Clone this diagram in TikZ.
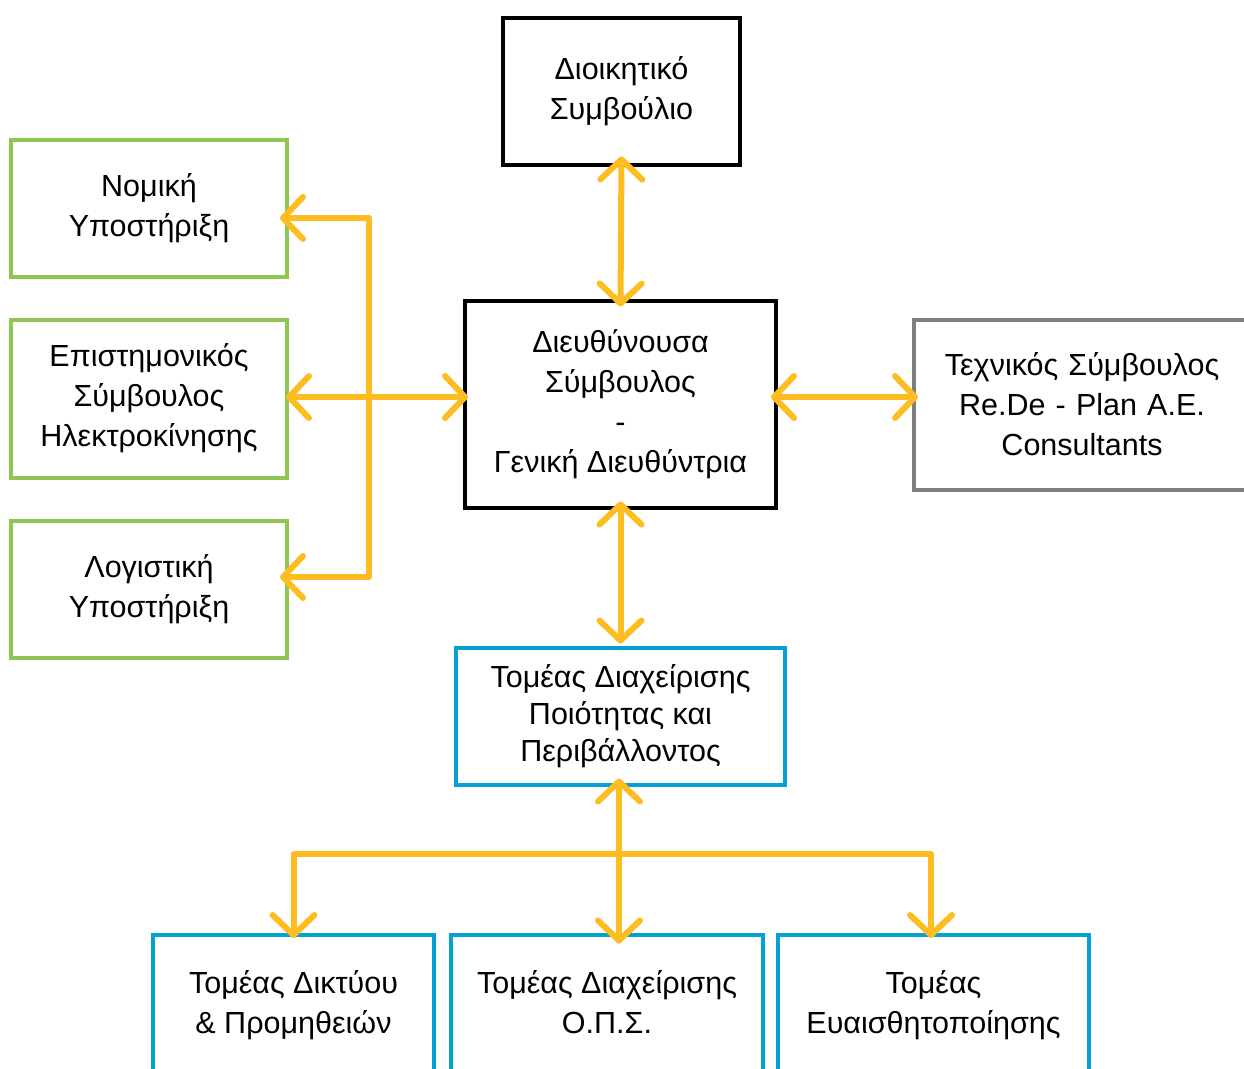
\documentclass[tikz,border=0pt]{standalone}
\usepackage{fontspec}
\setmainfont{Liberation Sans}
\usetikzlibrary{arrows.meta,calc}
\definecolor{ylw}{HTML}{FDBD21}
\definecolor{grn}{HTML}{8DC650}
\definecolor{blu}{HTML}{05A1D5}
\definecolor{gry}{HTML}{7F7F7F}
\begin{document}
\begin{tikzpicture}[x=1pt,y=-1pt,
  box/.style={draw, line width=4pt, align=center, inner sep=0pt,
    font=\fontsize{30.5}{40}\selectfont},
  blk/.style={box, draw=black},
  gbox/.style={box, draw=grn},
  bbox/.style={box, draw=blu},
  greybox/.style={box, draw=gry},
  arr/.style={draw=ylw, line width=6pt, line cap=round, line join=round,
    {Straight Barb[length=20pt,width=42pt,round]}-{Straight Barb[length=20pt,width=42pt,round]}}
]
\clip (0,0) rectangle (1244,1068);
\fill[white] (0,0) rectangle (1244,1068);

\node[blk, minimum width=237pt, minimum height=147pt] (board) at (621.5,91) {Διοικητικό\\Συμβούλιο};
\node[blk, minimum width=311pt, minimum height=207pt] (ceo) at (620.5,404) {Διευθύνουσα\\Σύμβουλος\\-\\Γενική Διευθύντρια};
\node[greybox, minimum width=336pt, minimum height=170pt, text width=336pt] (tech) at (1082,404.5) {Τεχνικός Σύμβουλος\\Re.De - Plan A.E.\\Consultants};
\node[gbox, minimum width=276pt, minimum height=137pt] (legal) at (149,208) {Νομική\\Υποστήριξη};
\node[gbox, minimum width=276pt, minimum height=158pt] (sci) at (149,398.5) {Επιστημονικός\\Σύμβουλος\\Ηλεκτροκίνησης};
\node[gbox, minimum width=276pt, minimum height=137pt] (acct) at (149,589) {Λογιστική\\Υποστήριξη};
\node[bbox, minimum width=329pt, minimum height=137pt, font=\fontsize{30.5}{37}\selectfont] (qual) at (620.5,716) {Τομέας Διαχείρισης\\Ποιότητας και\\Περιβάλλοντος};
\node[bbox, minimum width=281pt, minimum height=140pt] (netw) at (293.5,1005) {Τομέας Δικτύου\\\& Προμηθειών};
\node[bbox, minimum width=312pt, minimum height=140pt] (ops) at (607,1005) {Τομέας Διαχείρισης\\Ο.Π.Σ.\vphantom{μ}};
\node[bbox, minimum width=311pt, minimum height=140pt] (aware) at (933.5,1005) {Τομέας\\Ευαισθητοποίησης};

% connectors (positions given relative to the named boxes)
\coordinate (y0) at ($(sci.east)+(0,-1.5)$);
\draw[arr] ($(board.south)+(0,-10)$) -- ($(ceo.north)+(0,8)$);
\draw[arr] ($(ceo.east |- y0)+(-7,0)$) -- ($(tech.west |- y0)+(6,0)$);
\draw[arr] ($(sci.east |- y0)+(-3,0)$) -- ($(ceo.west |- y0)+(5,0)$);
\coordinate (busTop) at ($(legal.east)+(80,10)$);
\coordinate (busBot) at ($(acct.east)+(80,-12)$);
\draw[arr] ($(legal.east |- busTop)+(-9,0)$) -- (busTop) -- (busBot) -- ($(acct.east |- busBot)+(-9,0)$);
\draw[arr] ($(ceo.south)+(0,-8)$) -- ($(qual.north)+(0,-2)$);
\draw[arr] ($(qual.south)+(-1.5,-8)$) -- ($(qual.south)+(-1.5,157)$);
\coordinate (busL) at ($(netw.north)+(0,-79)$);
\coordinate (busR) at ($(aware.north)+(-2.5,-79)$);
\draw[arr] ($(netw.north)+(0,5)$) -- (busL) -- (busR) -- ($(aware.north)+(-2.5,5)$);
\end{tikzpicture}
\end{document}
